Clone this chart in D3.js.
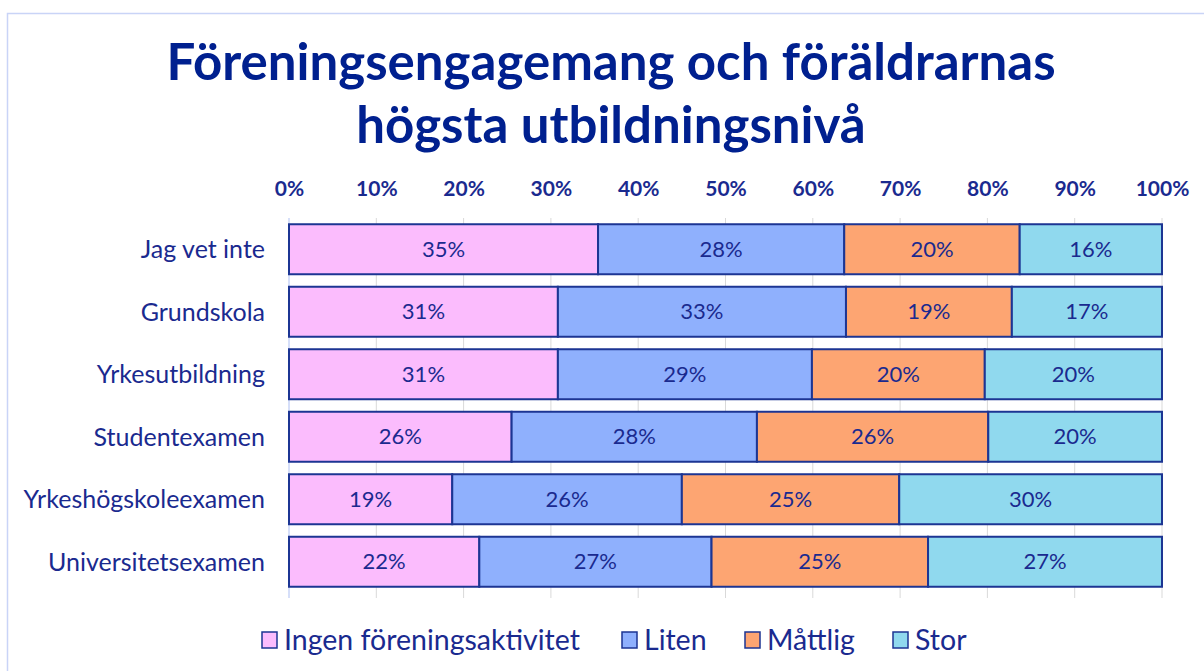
<!DOCTYPE html>
<html>
<head>
<meta charset="utf-8">
<script src="https://cdn.jsdelivr.net/npm/d3@7"></script>
<style>
  body { margin: 0; background: #fff; font-family: Lato, "Open Sans", sans-serif; }
</style>
</head>
<body>
<div id="chart"></div>
<script>
const categories = ["Jag vet inte", "Grundskola", "Yrkesutbildning", "Studentexamen", "Yrkeshögskoleexamen", "Universitetsexamen"];
const seriesNames = ["Ingen föreningsaktivitet", "Liten", "Måttlig", "Stor"];
const ingen = [35.4, 30.8, 30.8, 25.5, 18.7, 21.8];
const liten = [28.2, 33.0, 29.1, 28.1, 26.3, 26.6];
const mattlig = [20.1, 19.0, 19.8, 26.5, 24.9, 24.8];
const stor = [16.3, 17.2, 20.3, 19.9, 30.1, 26.8];
const ticks = [0, 10, 20, 30, 40, 50, 60, 70, 80, 90, 100];
const colors = ["#fbbcfd", "#8fb0fd", "#fda572", "#90d9ee"];

const width = 1204, height = 671;
const textColor = "#1a2a8f";

const svg = d3.select("#chart").append("svg")
    .attr("width", width)
    .attr("height", height);

// frame
svg.append("rect")
    .attr("x", 7.5).attr("y", 13.5)
    .attr("width", 1210).attr("height", 680)
    .attr("fill", "none")
    .attr("stroke", "#c9d4f7")
    .attr("stroke-width", 1.5);

// title
const title = svg.append("text")
    .attr("text-anchor", "middle")
    .attr("fill", "#00208f")
    .style("font-weight", "bold")
    .style("font-size", "51px");
title.append("tspan").attr("x", 611).attr("y", 80).text("Föreningsengagemang och föräldrarnas");
title.append("tspan").attr("x", 611).attr("y", 143).text("högsta utbildningsnivå");

const x = d3.scaleLinear().domain([0, 100]).range([289, 1162]);
const y = d3.scaleBand().domain(categories).range([218, 593]).paddingInner(0.2).paddingOuter(0.1);

// grid
svg.append("g")
    .selectAll("line")
    .data(ticks.slice(1))
    .enter().append("line")
    .attr("x1", d => x(d)).attr("x2", d => x(d))
    .attr("y1", 218).attr("y2", 598)
    .attr("stroke", "#d9d9d9")
    .attr("stroke-width", 1);

svg.append("line")
    .attr("x1", x(0)).attr("x2", x(0))
    .attr("y1", 218).attr("y2", 598)
    .attr("stroke", "#c9d4f7")
    .attr("stroke-width", 1.5);

// top axis
const axis = svg.append("g")
    .attr("transform", "translate(0,218)")
    .call(d3.axisTop(x).tickValues(ticks).tickFormat(d => d + "%").tickSize(0).tickPadding(22));
axis.select(".domain").remove();
axis.selectAll("text")
    .attr("fill", textColor)
    .style("font-family", "Lato, sans-serif")
    .style("font-weight", "bold")
    .style("font-size", "21px");

// stacked data
const rows = categories.map((c, i) => ({ cat: c, Ingen: ingen[i], Liten: liten[i], Mattlig: mattlig[i], Stor: stor[i] }));
const keys = ["Ingen", "Liten", "Mattlig", "Stor"];
const stacked = d3.stack().keys(keys)(rows);

const layers = svg.append("g")
    .selectAll("g")
    .data(stacked)
    .enter().append("g")
    .attr("fill", (d, i) => colors[i]);

layers.selectAll("rect")
    .data(d => d)
    .enter().append("rect")
    .attr("x", d => x(d[0]))
    .attr("y", d => y(d.data.cat))
    .attr("width", d => x(d[1]) - x(d[0]))
    .attr("height", y.bandwidth())
    .attr("stroke", "#1c3593")
    .attr("stroke-width", 2);

layers.selectAll("text")
    .data(d => d)
    .enter().append("text")
    .attr("x", d => (x(d[0]) + x(d[1])) / 2)
    .attr("y", d => y(d.data.cat) + y.bandwidth() / 2)
    .attr("dy", "0.35em")
    .attr("text-anchor", "middle")
    .attr("fill", textColor)
    .style("font-size", "22px")
    .text(d => Math.round(d[1] - d[0]) + "%");

// category labels
svg.append("g")
    .selectAll("text")
    .data(categories)
    .enter().append("text")
    .attr("x", 265)
    .attr("y", d => y(d) + y.bandwidth() / 2)
    .attr("dy", "0.35em")
    .attr("text-anchor", "end")
    .attr("fill", textColor)
    .style("font-size", "25px")
    .text(d => d);

// legend
const legendX = [262, 622, 745, 893];
const legend = svg.append("g")
    .selectAll("g")
    .data(seriesNames)
    .enter().append("g")
    .attr("transform", (d, i) => `translate(${legendX[i]},640)`);
legend.append("rect")
    .attr("x", 0).attr("y", -8)
    .attr("width", 15).attr("height", 16)
    .attr("fill", (d, i) => colors[i])
    .attr("stroke", "#1c3593")
    .attr("stroke-width", 1.5);
legend.append("text")
    .attr("x", 22)
    .attr("dy", "0.35em")
    .attr("fill", textColor)
    .style("font-size", "28.5px")
    .text(d => d);
</script>
</body>
</html>
